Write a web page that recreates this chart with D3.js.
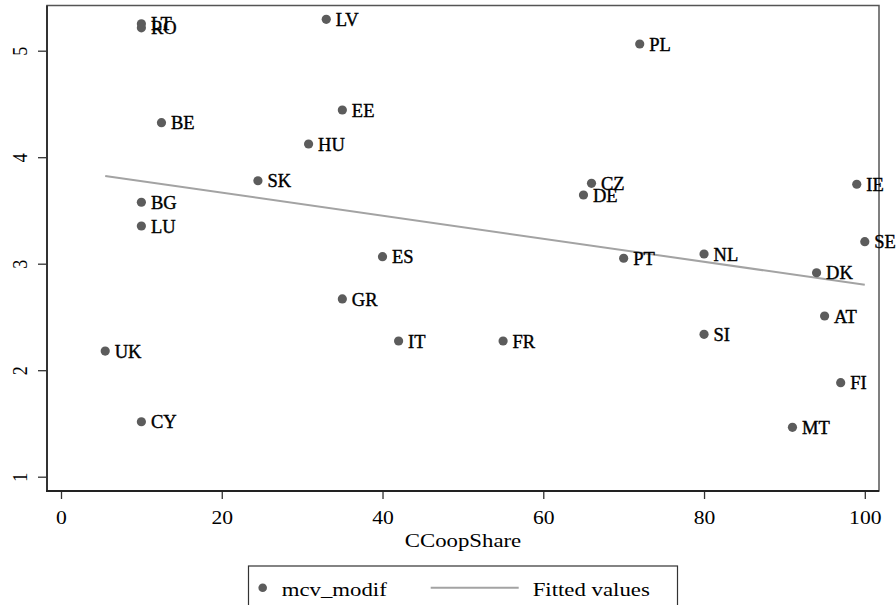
<!DOCTYPE html>
<html>
<head>
<meta charset="utf-8">
<script src="https://cdn.jsdelivr.net/npm/d3@7"></script>
<style>
  html, body { margin: 0; padding: 0; background: #fff; }
  svg { display: block; }
  text { font-family: "Liberation Serif", "Times New Roman", serif; fill: #000; }
</style>
</head>
<body>
<svg id="chart" width="896" height="605"></svg>
<script>
// ---- data ----
const countries = ["LT","RO","LV","PL","BE","EE","HU","SK","CZ","DE","IE","BG","LU","SE","ES","NL","PT","DK","GR","AT","SI","IT","FR","UK","FI","CY","MT"];
const coopShare = [10, 10, 33, 72, 12.5, 35, 30.8, 24.5, 66, 65, 99, 10, 10, 100, 40, 80, 70, 94, 35, 95, 80, 42, 55, 5.5, 97, 10, 91];
const mcvModif  = [5.253, 5.215, 5.295, 5.063, 4.324, 4.443, 4.124, 3.779, 3.755, 3.645, 3.746, 3.577, 3.354, 3.207, 3.066, 3.091, 3.051, 2.915, 2.669, 2.509, 2.337, 2.274, 2.274, 2.18, 1.883, 1.516, 1.464];
const xTicks = [0, 20, 40, 60, 80, 100];
const yTicks = [1, 2, 3, 4, 5];
const xTitle = "CCoopShare";
const legendLabels = ["mcv_modif", "Fitted values"];

// ---- layout ----
const svg = d3.select("#chart");
const frame = { left: 47, right: 879, top: 5.5, bottom: 491 };
const x = d3.scaleLinear().domain([0, 100]).range([61, 864.8]);
const y = d3.scaleLinear().domain([1, 5]).range([476.7, 50.7]);
const SX = 1.2; // horizontal stretch of the reference text
const markerColor = "#5c5c5c";
const fitColor = "#a3a3a3";

// plot region outline
svg.append("rect")
  .attr("x", frame.left).attr("y", frame.top)
  .attr("width", frame.right - frame.left).attr("height", frame.bottom - frame.top)
  .attr("fill", "none").attr("stroke", "#555").attr("stroke-width", 1.5);

// fitted values (OLS of the data)
const n = coopShare.length;
const mx = d3.mean(coopShare), my = d3.mean(mcvModif);
let sxy = 0, sxx = 0;
for (let i = 0; i < n; i++) { sxy += (coopShare[i]-mx)*(mcvModif[i]-my); sxx += (coopShare[i]-mx)**2; }
const slope = sxy / sxx, icpt = my - slope * mx;
const xMin = d3.min(coopShare), xMax = d3.max(coopShare);
const fitted = [xMin, xMax].map(v => [v, icpt + slope * v]);
svg.append("path")
  .attr("d", d3.line().x(d => x(d[0])).y(d => y(d[1]))(fitted))
  .attr("fill", "none").attr("stroke", fitColor).attr("stroke-width", 2);

// axes
const xAxis = svg.append("g")
  .attr("transform", `translate(0,${frame.bottom})`)
  .call(d3.axisBottom(x).tickValues(xTicks).tickFormat(d3.format("d")).tickSize(8).tickSizeOuter(0).tickPadding(0));
xAxis.select(".domain").remove();
xAxis.selectAll(".tick line").attr("stroke", "#333").attr("stroke-width", 1.3);
xAxis.selectAll(".tick text")
  .attr("y", null).attr("dy", null)
  .attr("font-size", 18)
  .attr("transform", `translate(0,33) scale(${SX},1)`);

const yAxis = svg.append("g")
  .attr("transform", `translate(${frame.left},0)`)
  .call(d3.axisLeft(y).tickValues(yTicks).tickFormat(d3.format("d")).tickSize(9).tickSizeOuter(0));
yAxis.select(".domain").remove();
yAxis.selectAll(".tick line").attr("stroke", "#333").attr("stroke-width", 1.3);
yAxis.selectAll(".tick text")
  .attr("x", null).attr("dy", null)
  .attr("text-anchor", "middle")
  .attr("font-size", 18)
  .attr("transform", `translate(-20.5,0) scale(${SX},1) rotate(-90)`);

// axis lines (left & bottom)
svg.append("line").attr("x1", frame.left).attr("x2", frame.left)
  .attr("y1", frame.top).attr("y2", frame.bottom + 1)
  .attr("stroke", "#333").attr("stroke-width", 2);
svg.append("line").attr("x1", frame.left - 1).attr("x2", frame.right)
  .attr("y1", frame.bottom).attr("y2", frame.bottom)
  .attr("stroke", "#222").attr("stroke-width", 2.2);

// axis title
svg.append("text")
  .attr("text-anchor", "middle").attr("font-size", 19)
  .attr("transform", `translate(${(frame.left + frame.right) / 2},546.5) scale(${SX},1)`)
  .text(xTitle);

// points and labels
const pts = svg.append("g");
const data = countries.map((c, i) => ({ c, xv: coopShare[i], yv: mcvModif[i] }));
pts.selectAll("circle").data(data).join("circle")
  .attr("cx", d => x(d.xv)).attr("cy", d => y(d.yv)).attr("r", 4.6)
  .attr("fill", markerColor);
pts.selectAll("text").data(data).join("text")
  .attr("x", d => x(d.xv) + 9.5).attr("y", d => y(d.yv) + 6.6)
  .attr("font-size", 18.5)
  .attr("stroke", "#000").attr("stroke-width", 0.4)
  .text(d => d.c);

// legend
const lg = svg.append("g");
lg.append("rect").attr("x", 248.5).attr("y", 566).attr("width", 429).attr("height", 60)
  .attr("fill", "#fff").attr("stroke", "#333").attr("stroke-width", 1.2);
lg.append("circle").attr("cx", 262.7).attr("cy", 587.7).attr("r", 4.3).attr("fill", markerColor);
lg.append("text").attr("font-size", 19)
  .attr("transform", `translate(281.7,595.5) scale(${SX},1)`).text(legendLabels[0]);
lg.append("line").attr("x1", 430.7).attr("x2", 518.7).attr("y1", 587.7).attr("y2", 587.7)
  .attr("stroke", fitColor).attr("stroke-width", 2);
lg.append("text").attr("font-size", 19)
  .attr("transform", `translate(532.7,595.5) scale(${SX},1)`).text(legendLabels[1]);
</script>
</body>
</html>
